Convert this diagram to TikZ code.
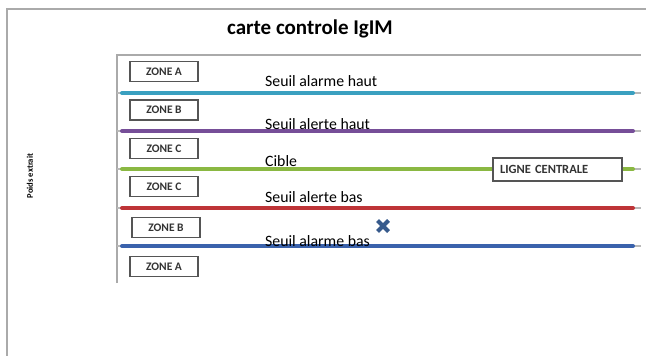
\documentclass[tikz,border=0pt]{standalone}
\usepackage{fontspec}
\setmainfont{Carlito}
\usetikzlibrary{shapes.misc}
\definecolor{frameGray}{RGB}{170,170,170}
\definecolor{sepGray}{RGB}{185,185,185}
\definecolor{boxGray}{RGB}{85,85,85}
\definecolor{cTeal}{RGB}{58,160,192}
\definecolor{cPurple}{RGB}{118,78,152}
\definecolor{cGreen}{RGB}{138,184,66}
\definecolor{cRed}{RGB}{190,52,55}
\definecolor{cBlue}{RGB}{58,98,172}
\definecolor{markBlue}{RGB}{55,90,140}
\tikzset{
  zonebox/.style={draw=boxGray, line width=1.6pt, fill=white, minimum width=68pt,
    minimum height=20pt, inner sep=0pt, font=\fontsize{11.5}{12}\selectfont\bfseries, text=black!80},
  levelline/.style={line width=4pt},
  sepline/.style={draw=sepGray, line width=1.6pt},
  lvllabel/.style={anchor=base west, inner sep=0pt, font=\fontsize{15.8}{17}\selectfont},
}
\begin{document}
\begin{tikzpicture}[x=1pt,y=-1pt]
  \useasboundingbox (0,0) rectangle (646,356);
  % outer chart frame
  \coordinate (ftl) at (7,9);
  \coordinate (ftr) at (646,9);
  \coordinate (fbl) at (7,356);
  \draw[frameGray, line width=1.4pt] (fbl) -- (ftl) -- (ftr);
  % title and axis label
  \node (title) at (310,29) {\fontsize{21}{23}\selectfont\bfseries carte controle IgIM};
  \node[rotate=90] (ylab) at (30,176) {\fontsize{8.6}{10}\selectfont\bfseries Poids extrait};
  % plot area
  \coordinate (ptl) at (117,55);
  \coordinate (ptr) at (641,55);
  \coordinate (pbl) at (117,283);
  \draw[frameGray, line width=1.4pt] (pbl) -- (ptl) -- (ptr);
  % zone separators with coloured threshold lines
  \foreach \yy/\col in {93/cTeal,131/cPurple,169/cGreen,208/cRed,246/cBlue}{
    \draw[sepline] (117,\yy) -- (641,\yy);
    \draw[levelline, \col, line cap=round] (122,\yy) -- (633,\yy);
  }
  % zone boxes
  \node[zonebox] (za1) at (164,71.5) {ZONE A};
  \node[zonebox] (zb1) at (164,110) {ZONE B};
  \node[zonebox] (zc1) at (164,148.5) {ZONE C};
  \node[zonebox] (zc2) at (164,186.5) {ZONE C};
  \node[zonebox] (zb2) at (166,227.5) {ZONE B};
  \node[zonebox] (za2) at (164,266.5) {ZONE A};
  % threshold labels
  \node[lvllabel] (l1) at (265,86) {Seuil alarme haut};
  \node[lvllabel] (l2) at (265,129) {Seuil alerte haut};
  \node[lvllabel] (l3) at (265,166) {Cible};
  \node[lvllabel] (l4) at (265,202) {Seuil alerte bas};
  \node[lvllabel] (l5) at (265,246) {Seuil alarme bas};
  % centre line label
  \node[draw=boxGray, line width=1.2pt, fill=white, minimum width=129pt, minimum height=23pt,
    inner sep=0pt, font=\fontsize{12.5}{13}\selectfont\bfseries, text=black!80, text width=115pt, align=left]
    (lc) at (557.5,169.5) {LIGNE CENTRALE};
  % measured point
  \node[cross out, draw=markBlue, line width=4pt, minimum size=7pt, inner sep=0pt] (pt) at (383,226) {};
\end{tikzpicture}
\end{document}
